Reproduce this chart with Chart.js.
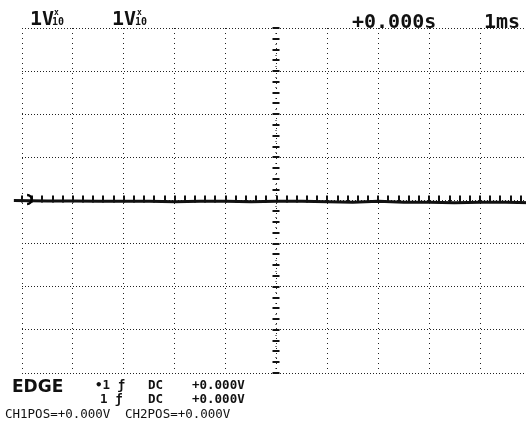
<!DOCTYPE html>
<html>
<head>
<meta charset="utf-8">
<script src="https://cdn.jsdelivr.net/npm/chart.js@4/dist/chart.umd.min.js"></script>
<style>
  html, body { margin: 0; padding: 0; background: #fff; overflow: hidden; }
  #wrap { width: 526px; height: 428px; overflow: hidden; }
</style>
</head>
<body>
<div id="wrap"><canvas id="scope" width="540" height="428"></canvas></div>
<script>
// screen: 10 horizontal divisions (time), 8 vertical divisions (volts)
const timeDivs = [0, 1, 2, 3, 4, 5, 6, 7, 8, 9, 10];
const voltDivs = [-4, -3, -2, -1, 0, 1, 2, 3, 4];

// CH1 trace (flat at ground)
const traceX = [-0.16, 0.5, 1, 1.5, 2, 2.5, 3, 3.5, 4, 4.5, 5, 5.5, 6, 6.5, 7, 7.5, 8, 8.5, 9, 9.5, 10, 10.2];
const traceY = [0.0, -0.01, -0.01, -0.02, -0.02, -0.02, -0.03, -0.02, -0.02, -0.03, -0.02, -0.02, -0.03, -0.04, -0.02, -0.04, -0.04, -0.05, -0.04, -0.04, -0.05, -0.05];

// readout texts
const chLabels = ['1V', '1V'];
const trigTime = '+0.000s';
const timeBase = '1ms';
const trigRows = [['\u20221 \u0192', 'DC', '+0.000V'], ['1 \u0192', 'DC', '+0.000V']];
const posRow = ['CH1POS=+0.000V', 'CH2POS=+0.000V'];

const scopeDecor = {
    id: 'scopeDecor',
    afterDraw(chart) {
        const ctx = chart.ctx;
        const xs = chart.scales.x, ys = chart.scales.y;
        const cx = xs.getPixelForValue(5), cy = ys.getPixelForValue(0);
        ctx.save();
        ctx.fillStyle = '#111';
        // minor ticks along the centre horizontal axis
        for (let v = 0; v <= 10.3; v += 0.2) {
            const px = Math.round(xs.getPixelForValue(v));
            ctx.fillRect(px - 1, cy - 5, 2, 7);
        }
        // minor ticks along the centre vertical axis
        for (let v = -4; v <= 4.01; v += 0.125) {
            const py = Math.round(ys.getPixelForValue(v));
            const k = Math.round(v * 8);
            if (k % 2 === 0) ctx.fillRect(cx - 4, py - 1, 7, 2);
            else ctx.fillRect(cx - 1, py, 1, 1);
        }
        // ground marker
        ctx.lineWidth = 2.5;
        ctx.beginPath();
        ctx.arc(xs.getPixelForValue(0.1), cy - 1, 4.5, -Math.PI / 2, Math.PI / 2);
        ctx.stroke();

        // top readout
        ctx.textBaseline = 'alphabetic';
        ctx.font = 'bold 20px "DejaVu Sans Mono"';
        ctx.fillText(chLabels[0], 30, 25);
        ctx.fillText(chLabels[1], 112, 25);
        ctx.font = 'bold 8px "DejaVu Sans Mono"';
        ctx.fillText('x', 54, 15);
        ctx.fillText('x', 137, 15);
        ctx.font = 'bold 10px "DejaVu Sans Mono"';
        ctx.fillText('10', 52, 25);
        ctx.fillText('10', 135, 25);
        ctx.font = 'bold 20px "DejaVu Sans Mono"';
        ctx.fillText(trigTime, 352, 28);
        ctx.fillText(timeBase, 484, 28);

        // bottom readout
        ctx.font = 'bold 17px "DejaVu Sans"';
        ctx.fillText('EDGE', 12, 392);
        ctx.font = 'bold 12.5px "DejaVu Sans Mono"';
        const rowY = [389, 403];
        trigRows.forEach((r, i) => {
            ctx.fillText(r[0], i === 0 ? 95 : 100, rowY[i]);
            ctx.fillText(r[1], 148, rowY[i]);
            ctx.fillText(r[2], 192, rowY[i]);
        });
        ctx.font = '12.5px "DejaVu Sans Mono"';
        ctx.fillText(posRow[0], 5, 418);
        ctx.fillText(posRow[1], 125, 418);
        ctx.restore();
    }
};

const scopeCtx = document.getElementById('scope').getContext('2d');
new Chart(scopeCtx, {
    type: 'line',
    data: {
        datasets: [{
            data: traceX.map((x, i) => ({ x: x, y: traceY[i] })),
            borderColor: '#111',
            borderWidth: 3,
            pointRadius: 0,
            tension: 0,
            clip: false
        }]
    },
    options: {
        responsive: false,
        animation: false,
        devicePixelRatio: 1,
        layout: { padding: { left: 22, right: 9, top: 28, bottom: 55 } },
        plugins: { legend: { display: false }, tooltip: { enabled: false } },
        scales: {
            x: {
                type: 'linear',
                min: 0,
                max: 10,
                afterBuildTicks: (s) => { s.ticks = timeDivs.map(v => ({ value: v })); },
                ticks: { display: false },
                grid: { color: '#222', lineWidth: 1, drawTicks: false },
                border: { display: false, dash: [1, 4] }
            },
            y: {
                min: -4,
                max: 4,
                afterBuildTicks: (s) => { s.ticks = voltDivs.map(v => ({ value: v })); },
                ticks: { display: false },
                grid: { color: '#222', lineWidth: 1, drawTicks: false },
                border: { display: false, dash: [1, 2] }
            }
        }
    },
    plugins: [scopeDecor]
});
</script>
</body>
</html>
